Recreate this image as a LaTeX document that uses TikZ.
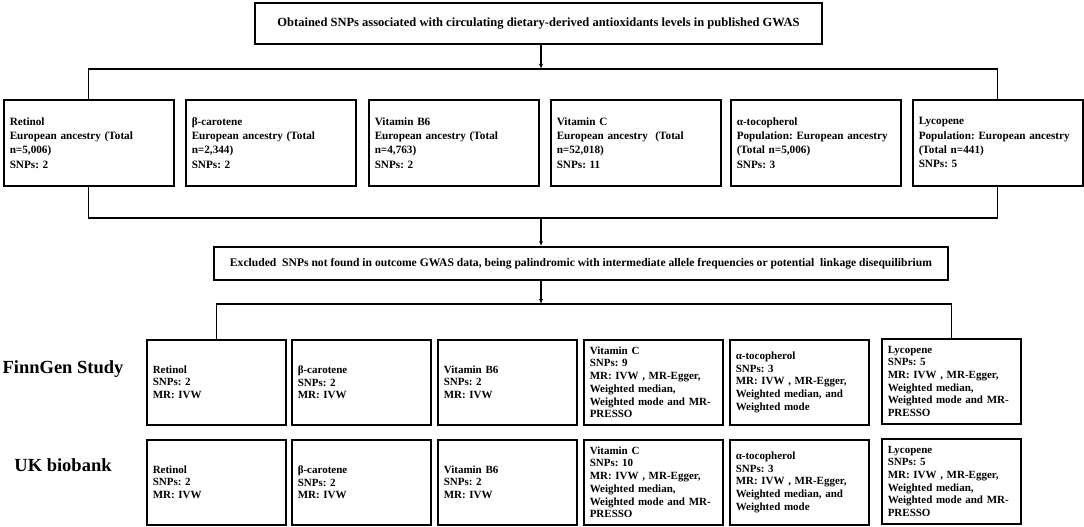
\documentclass[tikz,border=0pt]{standalone}
\usepackage{fontspec}
\setmainfont{Liberation Serif}
\usetikzlibrary{arrows.meta}
\frenchspacing

\begin{document}
\begin{tikzpicture}[x=1pt, y=-1pt,
    box/.style={draw, line width=1.5pt, inner xsep=6pt, inner ysep=0pt, align=left, anchor=north west},
    src/.style={box, text width=158pt, minimum height=86pt, font=\bfseries\fontsize{11.2}{14.3}\selectfont},
    res/.style={box, text width=127pt, minimum height=85pt, font=\bfseries\fontsize{11}{12.7}\selectfont},
    wide/.style={draw, line width=1.5pt},
    study/.style={font=\bfseries\fontsize{18.5}{20}\selectfont},
    con/.style={line width=1.2pt},
    arr/.style={line width=1.2pt, -{Latex[length=5pt,width=4pt]}}]
    \useasboundingbox (0,0) rectangle (1084,527);

    \node[wide, minimum width=567pt, minimum height=41pt, font=\bfseries\fontsize{12.5}{14}\selectfont] (gwas) at (538.5,23.5)
        {Obtained SNPs associated with circulating dietary-derived antioxidants levels in published GWAS};

    % exposures
    \node[src] (ret)  at (3,99)   {Retinol\\European ancestry (Total\\n=5,006)\\SNPs: 2};
    \node[src] (bcar) at (185,99) {β-carotene\\European ancestry (Total\\n=2,344)\\SNPs: 2};
    \node[src] (vb6)  at (368,99) {Vitamin B6\\European ancestry (Total\\n=4,763)\\SNPs: 2};
    \node[src] (vitc) at (550,99) {Vitamin C\\European ancestry\ \ (Total\\n=52,018)\\SNPs: 11};
    \node[src] (atoc) at (730,99) {α-tocopherol\\Population: European ancestry\\(Total n=5,006)\\SNPs: 3};
    \node[src] (lyc)  at (912,99) {Lycopene\\Population: European ancestry\\(Total n=441)\\SNPs: 5};

    \node[wide, minimum width=734pt, minimum height=33pt, font=\bfseries\fontsize{11.6}{13}\selectfont] (excl) at (581,263.5)
        {Excluded\ \ SNPs not found in outcome GWAS data, being palindromic with intermediate allele frequencies or potential\ \ linkage disequilibrium};

    % outcomes
    \node[study] (fin) at (63,369) {FinnGen Study};
    \node[study] (ukb) at (63,465) {UK biobank};

    \node[res] (fret)  at (146,339) {Retinol\\SNPs: 2\\MR: IVW};
    \node[res] (fbcar) at (291,339) {β-carotene\\SNPs: 2\\MR: IVW};
    \node[res] (fvb6)  at (437,339) {Vitamin B6\\SNPs: 2\\MR: IVW};
    \node[res] (fvitc) at (583,339) {Vitamin C\\SNPs: 9\\MR: IVW , MR-Egger,\\Weighted median,\\Weighted mode and MR-\\PRESSO};
    \node[res] (fatoc) at (729,339) {α-tocopherol\\SNPs: 3\\MR: IVW , MR-Egger,\\Weighted median, and\\Weighted mode};
    \node[res] (flyc)  at (881,338) {Lycopene\\SNPs: 5\\MR: IVW , MR-Egger,\\Weighted median,\\Weighted mode and MR-\\PRESSO};

    \node[res] (uret)  at (146,439) {Retinol\\SNPs: 2\\MR: IVW};
    \node[res] (ubcar) at (291,439) {β-carotene\\SNPs: 2\\MR: IVW};
    \node[res] (uvb6)  at (437,439) {Vitamin B6\\SNPs: 2\\MR: IVW};
    \node[res] (uvitc) at (583,439) {Vitamin C\\SNPs: 10\\MR: IVW , MR-Egger,\\Weighted median,\\Weighted mode and MR-\\PRESSO};
    \node[res] (uatoc) at (729,439) {α-tocopherol\\SNPs: 3\\MR: IVW , MR-Egger,\\Weighted median, and\\Weighted mode};
    \node[res] (ulyc)  at (881,438) {Lycopene\\SNPs: 5\\MR: IVW , MR-Egger,\\Weighted median,\\Weighted mode and MR-\\PRESSO};

    % connectors
    \coordinate (j1) at (541,69);
    \coordinate (j2) at (541,218);
    \coordinate (j3) at (541,304);
    \draw[arr] (gwas.south -| j1) -- (j1);
    \draw[con] (ret.north) |- (j1) -| (lyc.north);
    \draw[con] (ret.south) |- (j2) -| (lyc.south);
    \draw[arr] (j2) -- (excl.north -| j2);
    \draw[arr] (excl.south -| j2) -- (j3);
    \draw[con] (fret.north) |- (j3) -| (flyc.north);
\end{tikzpicture}
\end{document}
